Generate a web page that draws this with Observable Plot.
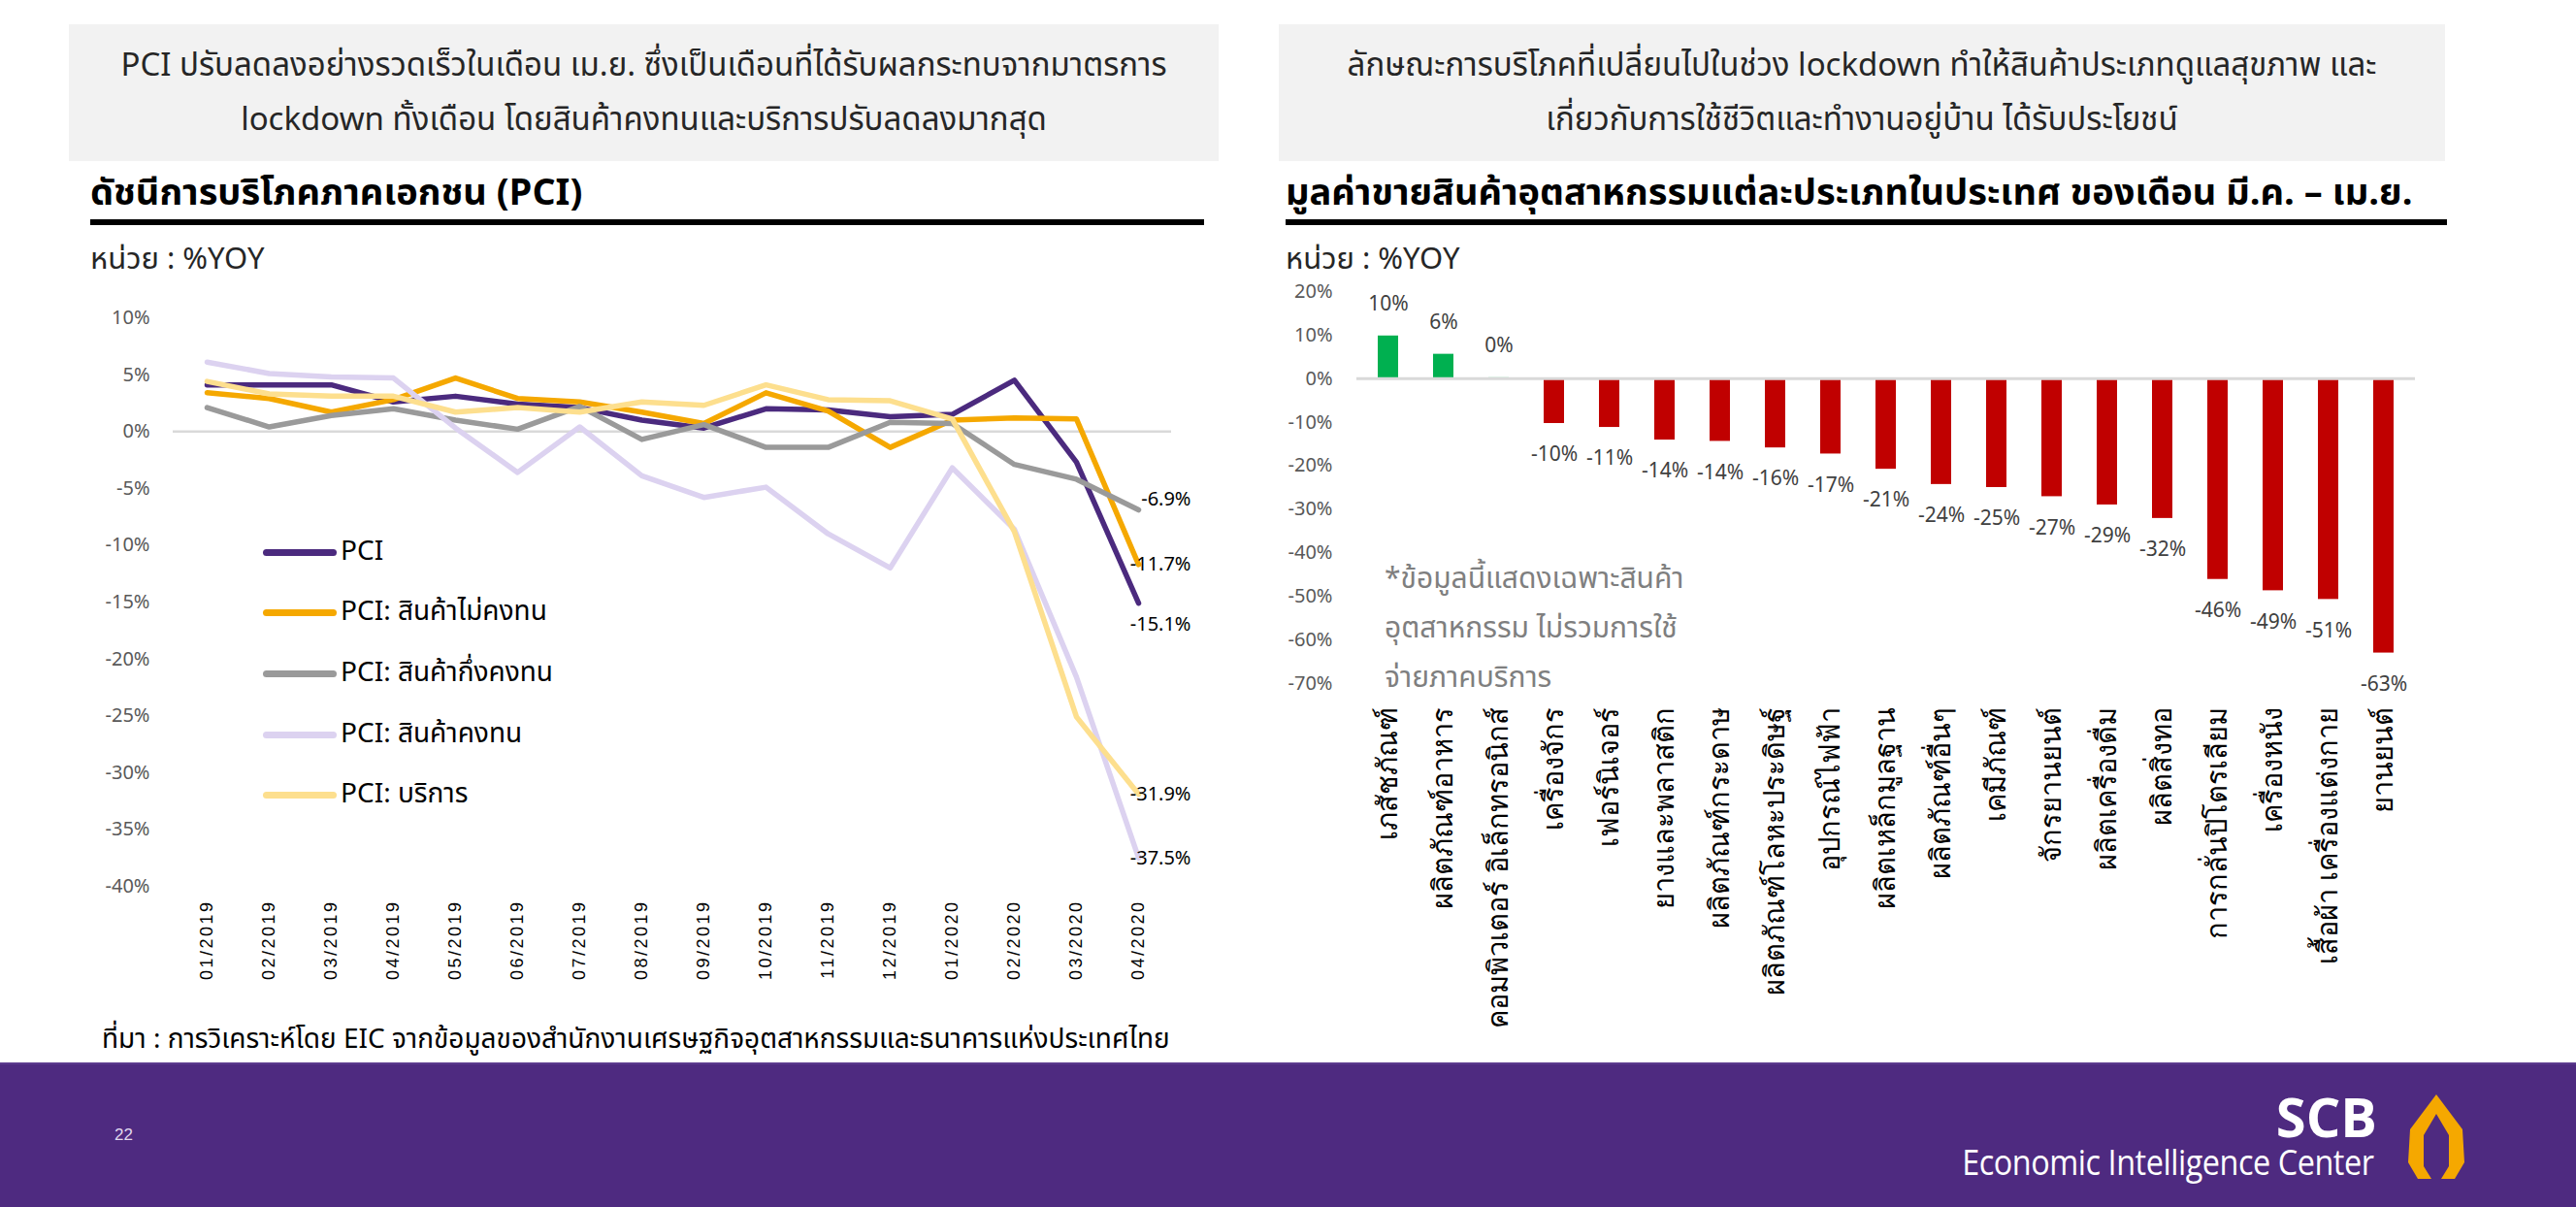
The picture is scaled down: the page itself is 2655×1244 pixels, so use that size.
<!DOCTYPE html>
<html><head><meta charset="utf-8">
<script src="https://cdn.jsdelivr.net/npm/d3@7"></script>
<script src="https://cdn.jsdelivr.net/npm/@observablehq/plot@0.6"></script>
<style>
html,body{margin:0;padding:0;background:#fff;}
body{width:2655px;height:1244px;position:relative;overflow:hidden;font-family:"Noto Sans Thai","Noto Sans","Liberation Sans",sans-serif;color:#262626;}
.abs{position:absolute;white-space:nowrap;}
.box{background:#f2f2f2;text-align:center;font-size:33px;line-height:56px;padding-top:15px;box-sizing:border-box;}
.title{font-size:38px;font-weight:bold;color:#000;line-height:40px;}
.rule{background:#000;height:6px;}
.unit{font-size:31px;color:#262626;line-height:34px;}
.leg{font-size:28px;color:#000;line-height:36px;display:flex;align-items:center;}
.sw{display:inline-block;width:76px;height:7px;border-radius:4px;margin-right:4px;}
.note{font-size:30px;color:#7f7f7f;line-height:51px;}
svg g[aria-label^="x-axis"] text{font-family:"Liberation Sans",Arial,sans-serif;}
#left svg g[aria-label^="x-axis"] text{font-size:18px;letter-spacing:2.5px;fill:#000;}
#right svg g[aria-label^="x-axis"] text{font-size:29px;fill:#000;}
</style></head>
<body>
<div class="abs box" style="left:71px;top:25px;width:1185px;height:141px;">PCI ปรับลดลงอย่างรวดเร็วในเดือน เม.ย. ซึ่งเป็นเดือนที่ได้รับผลกระทบจากมาตรการ<br>lockdown ทั้งเดือน โดยสินค้าคงทนและบริการปรับลดลงมากสุด</div>
<div class="abs box" style="left:1318px;top:25px;width:1202px;height:141px;">ลักษณะการบริโภคที่เปลี่ยนไปในช่วง lockdown ทำให้สินค้าประเภทดูแลสุขภาพ และ<br>เกี่ยวกับการใช้ชีวิตและทำงานอยู่บ้าน ได้รับประโยชน์</div>
<div class="abs title" style="left:93px;top:180px;">ดัชนีการบริโภคภาคเอกชน (PCI)</div>
<div class="abs title" style="left:1325px;top:180px;">มูลค่าขายสินค้าอุตสาหกรรมแต่ละประเภทในประเทศ ของเดือน มี.ค. – เม.ย.</div>
<div class="abs rule" style="left:93px;top:226px;width:1148px;"></div>
<div class="abs rule" style="left:1325px;top:226px;width:1197px;"></div>
<div class="abs unit" style="left:93px;top:251px;">หน่วย : %YOY</div>
<div class="abs unit" style="left:1325px;top:251px;">หน่วย : %YOY</div>
<div id="left" class="abs" style="left:0;top:280px;"></div>
<div id="right" class="abs" style="left:1300px;top:270px;"></div>
<div id="legend"></div>
<div class="abs note" style="left:1427px;top:572px;">*ข้อมูลนี้แสดงเฉพาะสินค้า<br>อุตสาหกรรม ไม่รวมการใช้<br>จ่ายภาคบริการ</div>
<div class="abs" style="left:105px;top:1055px;font-size:28px;line-height:34px;color:#000;">ที่มา : การวิเคราะห์โดย EIC จากข้อมูลของสำนักงานเศรษฐกิจอุตสาหกรรมและธนาคารแห่งประเทศไทย</div>
<div class="abs" style="left:0;top:1095px;width:2655px;height:149px;background:#4e2a80;border-top:2px solid #5c3a8e;box-sizing:border-box;"></div>
<div class="abs" style="left:118px;top:1160px;font-size:17px;color:#e0d8ee;font-family:'Liberation Sans';">22</div>
<div class="abs" style="right:205px;top:1120px;font-size:56px;font-weight:bold;color:#fff;font-family:'Open Sans','Liberation Sans',sans-serif;line-height:60px;">SCB</div>
<div class="abs" style="right:209px;top:1178px;font-size:36px;color:#fff;font-family:'Open Sans','Liberation Sans',sans-serif;line-height:40px;transform:scaleX(0.9);transform-origin:right center;letter-spacing:-0.5px;">Economic Intelligence Center</div>
<svg class="abs" style="left:2478px;top:1128px;" width="66" height="88" viewBox="0 0 66 88">
<path d="M33,0 L60,36 L62,70 L52,87 L38,87 L46,74 L46,42 L33,20 L20,42 L20,74 L28,87 L14,87 L4,70 L6,36 Z" fill="#f5a800"/>
</svg>
<script>
// ---------- Left chart data (PCI, %YOY) ----------
const months = ["01/2019","02/2019","03/2019","04/2019","05/2019","06/2019","07/2019","08/2019","09/2019","10/2019","11/2019","12/2019","01/2020","02/2020","03/2020","04/2020"];
const pci         = [4.1, 4.1, 4.1, 2.6, 3.1, 2.4, 2.1, 1.0, 0.3, 2.0, 1.9, 1.3, 1.5, 4.5, -2.7, -15.1];
const nonDurable  = [3.4, 2.9, 1.7, 2.8, 4.7, 2.9, 2.6, 1.7, 0.7, 3.4, 1.8, -1.4, 1.0, 1.2, 1.1, -11.7];
const semiDurable = [2.1, 0.4, 1.4, 2.0, 1.0, 0.2, 2.2, -0.7, 0.6, -1.4, -1.4, 0.8, 0.7, -2.9, -4.2, -6.9];
const durable     = [6.1, 5.1, 4.8, 4.7, 0.3, -3.6, 0.4, -3.9, -5.8, -4.9, -9.0, -12.0, -3.2, -8.6, -21.6, -37.5];
const services    = [4.4, 3.3, 3.1, 3.1, 1.7, 2.1, 1.7, 2.6, 2.3, 4.1, 2.8, 2.7, 1.1, -8.8, -25.1, -31.9];
const seriesNames = ["PCI", "PCI: สินค้าไม่คงทน", "PCI: สินค้ากึ่งคงทน", "PCI: สินค้าคงทน", "PCI: บริการ"];
const yTicksLeft = [10, 5, 0, -5, -10, -15, -20, -25, -30, -35, -40];

// ---------- Right chart data (industrial sales, %YOY, Mar–Apr) ----------
const categories = ["เภสัชภัณฑ์","ผลิตภัณฑ์อาหาร","คอมพิวเตอร์ อิเล็กทรอนิกส์","เครื่องจักร","เฟอร์นิเจอร์","ยางและพลาสติก","ผลิตภัณฑ์กระดาษ","ผลิตภัณฑ์โลหะประดิษฐ์","อุปกรณ์ไฟฟ้า","ผลิตเหล็กมูลฐาน","ผลิตภัณฑ์อื่นๆ","เคมีภัณฑ์","จักรยานยนต์","ผลิตเครื่องดื่ม","ผลิตสิ่งทอ","การกลั่นปิโตรเลียม","เครื่องหนัง","เสื้อผ้า เครื่องแต่งกาย","ยานยนต์"];
const salesValues = [9.8, 5.6, 0.2, -10.3, -11.2, -14.1, -14.4, -15.9, -17.3, -20.8, -24.3, -25.0, -27.1, -29.0, -32.1, -46.1, -48.7, -50.7, -63.0];
const yTicksRight = [20, 10, 0, -10, -20, -30, -40, -50, -60, -70];

const seriesColors = ["#4b2a7e", "#f5a800", "#9a9a9a", "#dcd2f0", "#fddf8e"];
const fontStack = "'Noto Sans Thai','Noto Sans','Liberation Sans',sans-serif";

// tidy table for left chart
const seriesValues = [pci, nonDurable, semiDurable, durable, services];
const tidy = [];
seriesNames.forEach((s, i) => months.forEach((m, j) => tidy.push({series: s, month: m, value: seriesValues[i][j]})));
const last = seriesNames.map((s, i) => ({series: s, month: months[months.length - 1], value: seriesValues[i][months.length - 1]}));
const lbl = d => d.value.toFixed(1) + "%";

const left = Plot.plot({
  width: 1260, height: 760,
  marginLeft: 178, marginRight: 53, marginTop: 47, marginBottom: 127,
  style: {fontFamily: fontStack, fontSize: "20px", color: "#595959", background: "transparent", overflow: "visible"},
  x: {type: "point", domain: months, padding: 0.5, tickRotate: -90, tickSize: 0, tickPadding: 14, label: null},
  y: {domain: [-40, 10], ticks: yTicksLeft, tickFormat: d => d + "%", tickSize: 0, tickPadding: 24, label: null},
  color: {domain: seriesNames, range: seriesColors},
  marks: [
    Plot.ruleY([0], {stroke: "#d9d9d9", strokeWidth: 2.5}),
    Plot.line(tidy, {x: "month", y: "value", z: "series", stroke: "series", strokeWidth: 5.5, strokeLinejoin: "round"}),
    Plot.text(last.filter(d => d.value > -7), {x: "month", y: "value", text: lbl, textAnchor: "end", dx: 54, dy: -11, fill: "#000", fontSize: 20}),
    Plot.text(last.filter(d => d.value < -15 && d.value > -16), {x: "month", y: "value", text: lbl, textAnchor: "end", dx: 54, dy: 22, fill: "#000", fontSize: 20}),
    Plot.text(last.filter(d => (d.value <= -7 && d.value > -15) || d.value < -16), {x: "month", y: "value", text: lbl, textAnchor: "end", dx: 54, dy: 0, fill: "#000", fontSize: 20})
  ]
});
document.getElementById("left").appendChild(left);

// legend
const legend = document.getElementById("legend");
const legendTops = [551, 613, 676, 739, 801];
seriesNames.forEach((s, i) => {
  const d = document.createElement("div");
  d.className = "abs leg";
  d.style.left = "271px";
  d.style.top = legendTops[i] + "px";
  d.innerHTML = `<span class="sw" style="background:${seriesColors[i]}"></span>${s}`;
  legend.appendChild(d);
});

const sales = categories.map((c, i) => ({cat: c, value: salesValues[i]}));
const pct0 = d => Math.round(d.value) + "%";
const right = Plot.plot({
  width: 1250, height: 800,
  marginLeft: 98, marginRight: 61, marginTop: 30, marginBottom: 366,
  style: {fontFamily: fontStack, fontSize: "20px", color: "#595959", background: "transparent", overflow: "visible"},
  x: {type: "band", domain: categories, paddingInner: 0.63, paddingOuter: 0.32, tickRotate: -90, tickSize: 0, tickPadding: 24, label: null},
  y: {domain: [-70, 20], ticks: yTicksRight, tickFormat: d => d + "%", tickSize: 0, tickPadding: 25, label: null},
  marks: [
    Plot.barY(sales.filter(d => d.value >= 0), {x: "cat", y: "value", fill: "#00b050"}),
    Plot.barY(sales.filter(d => d.value < 0), {x: "cat", y: "value", fill: "#c00000"}),
    Plot.ruleY([0], {stroke: "#d9d9d9", strokeWidth: 3}),
    Plot.text(sales.filter(d => d.value >= 0), {x: "cat", y: "value", text: pct0, dy: -33, fill: "#404040", fontSize: 21}),
    Plot.text(sales.filter(d => d.value < 0), {x: "cat", y: "value", text: pct0, dy: 32, fill: "#404040", fontSize: 21})
  ]
});
document.getElementById("right").appendChild(right);
</script>
</body></html>
